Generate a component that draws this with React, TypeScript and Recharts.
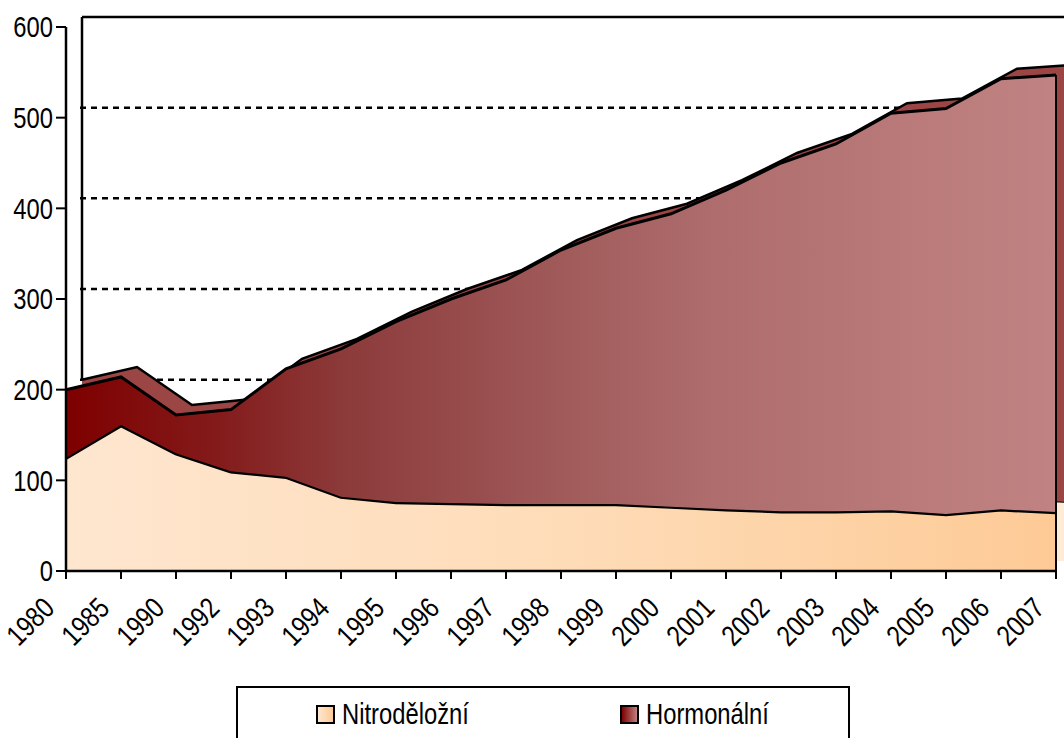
import React from 'react';
import {
  AreaChart,
  Area,
  XAxis,
  YAxis,
  CartesianGrid,
  ReferenceLine,
  Legend,
} from 'recharts';

const years = [
  '1980', '1985', '1990', '1992', '1993', '1994', '1995', '1996', '1997', '1998',
  '1999', '2000', '2001', '2002', '2003', '2004', '2005', '2006', '2007',
];
const nitrodelozni = [125, 161, 130, 110, 104, 82, 76, 75, 74, 74, 74, 71, 68, 66, 66, 67, 63, 68, 65];
const hormonalni = [75, 53, 42, 68, 119, 163, 199, 225, 247, 280, 304, 323, 352, 384, 405, 438, 447, 475, 482];
const yTicks = [0, 100, 200, 300, 400, 500, 600];
const gridValues = [100, 200, 300, 400, 500];

const data = years.map((year, i) => ({
  year,
  nitro: nitrodelozni[i],
  hormon: hormonalni[i],
}));

const firstYear = years[0];
const lastYear = years[years.length - 1];
const lastTotal = nitrodelozni[years.length - 1] + hormonalni[years.length - 1];
const firstTotal = nitrodelozni[0] + hormonalni[0];

// narrow look: Liberation Sans squeezed horizontally
const FONT = '"Liberation Sans", Arial, sans-serif';
const FS = 29;
const SQ = 0.82;

const YearTick = ({ x, y, payload }: any) => {
  const tx = x - 10;
  const ty = y + 29;
  return (
    <text
      x={tx}
      y={ty}
      textAnchor="end"
      transform={`rotate(-45 ${tx} ${ty}) translate(${tx} ${ty}) scale(${SQ} 1) translate(${-tx} ${-ty})`}
      fontSize={FS}
      fontFamily={FONT}
      fill="#000"
    >
      {payload.value}
    </text>
  );
};

const ValueTick = ({ x, y, payload }: any) => (
  <text
    x={x}
    y={y}
    dy="0.355em"
    textAnchor="end"
    transform={`translate(${x} ${y}) scale(${SQ} 1) translate(${-x} ${-y})`}
    fontSize={FS}
    fontFamily={FONT}
    fill="#000"
  >
    {payload.value}
  </text>
);

const Swatch = ({ bg }: { bg: string }) => (
  <span
    style={{
      width: 15,
      height: 15,
      border: '2px solid #000',
      background: bg,
      marginRight: 7,
      flex: 'none',
    }}
  />
);

const Label = ({ text }: { text: string }) => (
  <span style={{ display: 'inline-block', transform: `scaleX(${SQ})`, transformOrigin: 'left center', whiteSpace: 'nowrap' }}>
    {text}
  </span>
);

const LegendBox = () => (
  <div
    style={{
      boxSizing: 'border-box',
      width: 614,
      height: 60,
      border: '2px solid #000',
      borderBottom: 'none',
      position: 'relative',
      fontFamily: FONT,
      fontSize: FS,
      lineHeight: '32px',
      color: '#000',
      background: '#fff',
    }}
  >
    <div style={{ position: 'absolute', left: 78, top: 10, display: 'flex', alignItems: 'center' }}>
      <Swatch bg="linear-gradient(to right, #fee6cf, #fdca96)" />
      <Label text="Nitroděložní" />
    </div>
    <div style={{ position: 'absolute', left: 382, top: 10, display: 'flex', alignItems: 'center' }}>
      <Swatch bg="linear-gradient(to right, #7e0000, #c08080)" />
      <Label text="Hormonální" />
    </div>
  </div>
);

export default function App() {
  return (
    <div
      style={{
        position: 'absolute',
        left: 0,
        top: 0,
        width: 1064,
        height: 738,
        overflow: 'hidden',
        background: '#fff',
      }}
    >
      <AreaChart
        width={1080}
        height={738}
        data={data}
        margin={{ top: 17, right: 8, bottom: 47, left: 0 }}
      >
        <defs>
          <linearGradient id="gNitro" x1="0" y1="0" x2="1" y2="0">
            <stop offset="0%" stopColor="#fee6cf" />
            <stop offset="50%" stopColor="#fedcb8" />
            <stop offset="100%" stopColor="#fdca96" />
          </linearGradient>
          <linearGradient id="gHormon" x1="0" y1="0" x2="1" y2="0">
            <stop offset="0%" stopColor="#7e0000" />
            <stop offset="15%" stopColor="#841a1a" />
            <stop offset="28%" stopColor="#8c3a3a" />
            <stop offset="50%" stopColor="#a05a5a" />
            <stop offset="65%" stopColor="#ae6c6c" />
            <stop offset="85%" stopColor="#ba7a7a" />
            <stop offset="100%" stopColor="#c08282" />
          </linearGradient>
        </defs>

        <XAxis
          xAxisId="front"
          dataKey="year"
          type="category"
          padding={{ left: 0, right: 16 }}
          height={60}
          axisLine={false}
          tickLine={{ stroke: '#000', strokeWidth: 2 }}
          tickSize={8}
          tickMargin={2}
          interval={0}
          tick={<YearTick />}
        />
        <XAxis
          xAxisId="back"
          dataKey="year"
          type="category"
          orientation="top"
          height={0}
          padding={{ left: 16, right: 0 }}
          hide
        />
        <YAxis
          yAxisId="front"
          domain={[0, 600]}
          ticks={yTicks}
          width={66}
          padding={{ top: 10, bottom: 0 }}
          axisLine={false}
          tickLine={{ stroke: '#000', strokeWidth: 2 }}
          tickSize={10}
          tickMargin={3}
          tick={<ValueTick />}
        />
        <YAxis
          yAxisId="back"
          domain={[0, 600]}
          ticks={yTicks}
          orientation="right"
          width={0}
          padding={{ top: 0, bottom: 10 }}
          hide
        />

        <CartesianGrid
          xAxisId="back"
          yAxisId="back"
          vertical={false}
          horizontalValues={gridValues}
          horizontal={(p: any) => (
            <line
              key={p.key}
              x1={p.x1 + 14}
              y1={p.y1}
              x2={p.x2}
              y2={p.y2}
              stroke="#000"
              strokeWidth={2.5}
              strokeDasharray="6 5"
            />
          )}
        />

        {/* 3D back copy */}
        <Area
          xAxisId="back"
          yAxisId="back"
          stackId="back"
          dataKey="nitro"
          type="linear"
          fill="#ffebd6"
          fillOpacity={1}
          stroke="#000"
          strokeWidth={2}
          isAnimationActive={false}
          legendType="none"
        />
        <Area
          xAxisId="back"
          yAxisId="back"
          stackId="back"
          dataKey="hormon"
          type="linear"
          fill="#9c4545"
          fillOpacity={1}
          stroke="#000"
          strokeWidth={2.5}
          isAnimationActive={false}
          legendType="none"
        />

        {/* front */}
        <Area
          xAxisId="front"
          yAxisId="front"
          stackId="front"
          dataKey="nitro"
          name="Nitroděložní"
          type="linear"
          fill="url(#gNitro)"
          fillOpacity={1}
          stroke="#000"
          strokeWidth={4.5}
          isAnimationActive={false}
        />
        <Area
          xAxisId="front"
          yAxisId="front"
          stackId="front"
          dataKey="hormon"
          name="Hormonální"
          type="linear"
          fill="url(#gHormon)"
          fillOpacity={1}
          stroke="#000"
          strokeWidth={3}
          isAnimationActive={false}
        />

        <ReferenceLine
          xAxisId="back"
          yAxisId="back"
          segment={[{ x: firstYear, y: 600 }, { x: lastYear, y: 600 }]}
          stroke="#000"
          strokeWidth={2.5}
        />
        <ReferenceLine
          xAxisId="back"
          yAxisId="back"
          segment={[{ x: firstYear, y: firstTotal }, { x: firstYear, y: 600 }]}
          stroke="#000"
          strokeWidth={2.5}
        />
        <ReferenceLine
          xAxisId="front"
          yAxisId="front"
          segment={[{ x: firstYear, y: 0 }, { x: firstYear, y: 600 }]}
          stroke="#000"
          strokeWidth={2.5}
        />
        <ReferenceLine
          xAxisId="front"
          yAxisId="front"
          segment={[{ x: firstYear, y: 0 }, { x: lastYear, y: 0 }]}
          stroke="#000"
          strokeWidth={2.5}
        />
        <ReferenceLine
          xAxisId="front"
          yAxisId="front"
          segment={[{ x: lastYear, y: 0 }, { x: lastYear, y: lastTotal }]}
          stroke="#000"
          strokeWidth={2}
        />

        <Legend
          verticalAlign="bottom"
          content={() => <LegendBox />}
          wrapperStyle={{ left: 236, top: 686, bottom: 'auto', width: 614, height: 60 }}
        />
      </AreaChart>
    </div>
  );
}
